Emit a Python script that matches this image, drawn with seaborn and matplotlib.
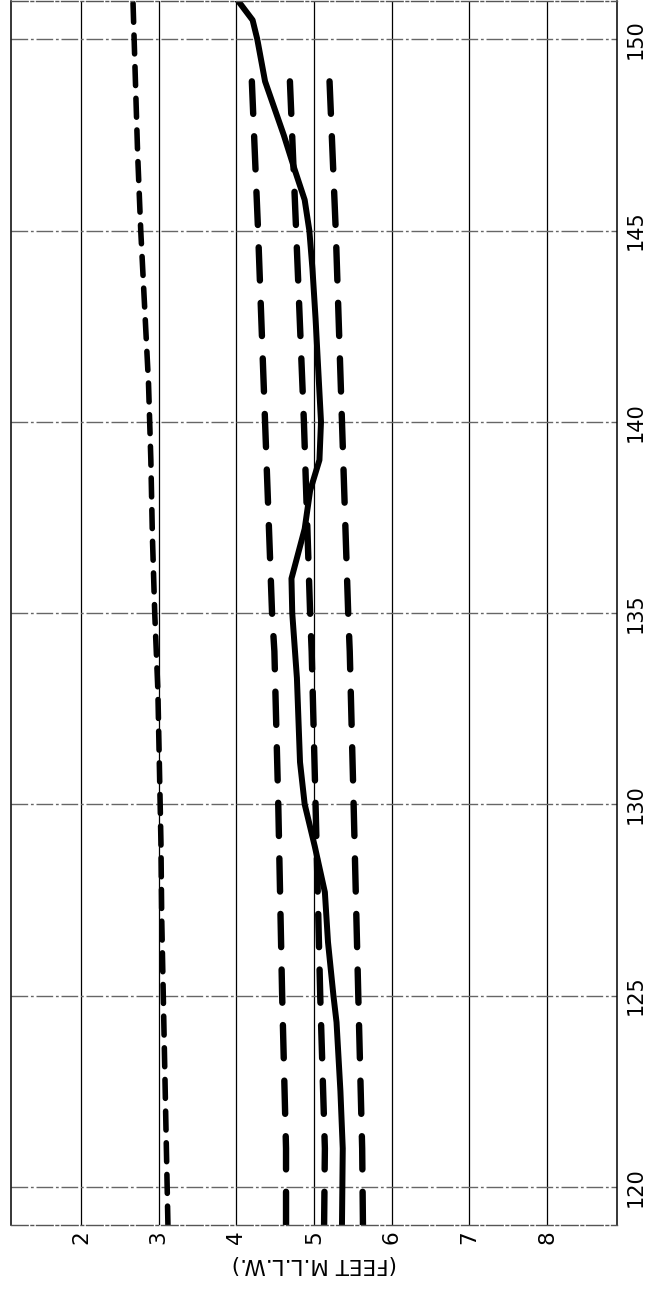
import matplotlib
matplotlib.use("Agg")
import matplotlib.pyplot as plt
import seaborn as sns
import numpy as np

# ---- data (feet M.L.L.W. vs station) ----
st_short = [119, 121, 123, 125, 127, 129, 131, 133, 135, 137, 139, 141, 143, 145, 147, 149, 151]
ft_short = [3.12, 3.10, 3.08, 3.06, 3.04, 3.03, 3.01, 2.99, 2.95, 2.92, 2.90, 2.87, 2.82, 2.77, 2.73, 2.70, 2.67]

st_dash = [119, 121, 125, 130, 134, 135, 140, 145, 148.9]
ft_dash_low = [4.64, 4.64, 4.59, 4.54, 4.49, 4.46, 4.37, 4.28, 4.20]
ft_dash_mid = [5.13, 5.14, 5.08, 5.02, 4.97, 4.95, 4.87, 4.77, 4.69]
ft_dash_high = [5.63, 5.62, 5.57, 5.51, 5.46, 5.44, 5.36, 5.28, 5.20]

st_solid = [119, 121, 122.5, 124.3, 125, 126.4, 127.7, 128.9, 130, 131.1, 133.3, 135, 135.9,
            137.2, 138.2, 139, 140, 142.7, 144, 145, 145.8, 146.6, 147.5, 148.9, 150, 150.5, 151.2]
ft_solid = [5.36, 5.37, 5.34, 5.29, 5.25, 5.18, 5.14, 5.01, 4.88, 4.82, 4.78, 4.72, 4.71,
            4.88, 4.95, 5.07, 5.09, 5.02, 4.98, 4.94, 4.88, 4.75, 4.61, 4.37, 4.27, 4.21, 3.95]

feet_ticks = [2, 3, 4, 5, 6, 7, 8]
station_ticks = [120, 125, 130, 135, 140, 145, 150]
x_label = "(FEET M.L.L.W.)"

# ---- figure ----
sns.set_style("white")
plt.rcParams["font.family"] = ["DejaVu Sans"]
plt.rcParams["text.color"] = "black"
plt.rcParams["xtick.color"] = "black"
plt.rcParams["ytick.color"] = "black"
plt.rcParams["axes.labelcolor"] = "black"

W, H = 645, 1298
fig = plt.figure(figsize=(W / 100, H / 100), dpi=100)
ax = fig.add_axes([11 / W, (H - 1225) / H, 606 / W, 1224 / H])

common = dict(ax=ax, sort=False, estimator=None, color="black", legend=False)

sns.lineplot(x=ft_short, y=st_short, linewidth=4.0, dash_capstyle="round",
             linestyle=(0, (3.4, 2.3)), **common)
for ft in (ft_dash_low, ft_dash_mid, ft_dash_high):
    sns.lineplot(x=ft, y=st_dash, linewidth=4.6, dash_capstyle="round",
                 linestyle=(0, (5.2, 3.5)), **common)
sns.lineplot(x=ft_solid, y=st_solid, linewidth=4.3, solid_capstyle="round",
             solid_joinstyle="round", **common)

ax.set_xlim(1.1, 8.9)
ax.set_ylim(119, 151)

ax.set_xticks(feet_ticks)
ax.set_xticklabels([str(v) for v in feet_ticks], rotation=90)
ax.set_yticks(station_ticks)
ax.set_yticklabels([str(v) for v in station_ticks], rotation=90, va="center")

ax.yaxis.tick_right()
ax.tick_params(axis="x", length=0, pad=4, labelsize=15.5, labelcolor="black")
ax.tick_params(axis="y", length=0, pad=6, labelsize=15, right=True, labelright=True,
               left=False, labelleft=False, labelcolor="black")

ax.set_axisbelow(True)
ax.xaxis.grid(True, color="black", linewidth=0.9, linestyle="-")
ax.yaxis.grid(True, color="#666666", linewidth=1.0, linestyle=(0, (12, 2, 2, 2)))

for side in ("left", "right"):
    ax.spines[side].set_color("black")
    ax.spines[side].set_linewidth(1.1)
for side in ("top", "bottom"):
    ax.spines[side].set_color("#555555")
    ax.spines[side].set_linewidth(1.0)
    ax.spines[side].set_linestyle((0, (12, 2, 2, 2)))

ax.set_xlabel(x_label, rotation=180, fontsize=15.5, labelpad=7, color="black")
ax.set_ylabel("")

fig.savefig("out.png", dpi=100)
